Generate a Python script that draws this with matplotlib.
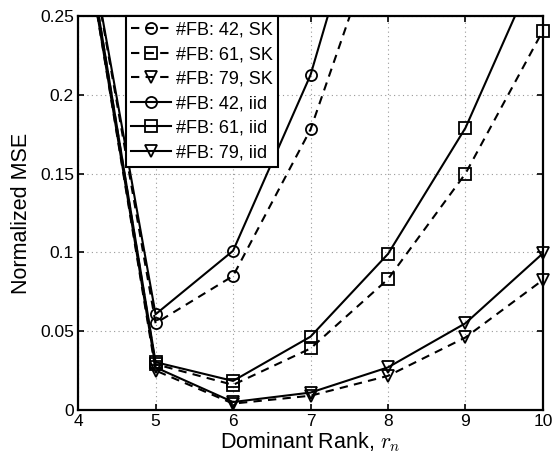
import matplotlib
matplotlib.use("Agg")
import matplotlib.pyplot as plt
from matplotlib.lines import Line2D

plt.rcParams['font.family'] = ['Liberation Sans', 'DejaVu Sans']
plt.rcParams['mathtext.fontset'] = 'cm'

# dominant rank values
rank_all = [4, 5, 6, 7, 8, 9, 10]
rank_42 = [4, 5, 6, 7, 8]

# normalized MSE per feedback setting
mse_42_sk = [0.335, 0.055, 0.085, 0.178, 0.32]
mse_61_sk = [0.33, 0.029, 0.0159, 0.039, 0.083, 0.150, 0.2407]
mse_79_sk = [0.325, 0.025, 0.004, 0.009, 0.0216, 0.046, 0.0825]
mse_42_iid = [0.335, 0.0607, 0.101, 0.2126, 0.38]
mse_61_iid = [0.33, 0.0303, 0.0184, 0.0465, 0.099, 0.179, 0.29]
mse_79_iid = [0.325, 0.027, 0.005, 0.011, 0.027, 0.055, 0.0994]

labels = ['#FB: 42, SK', '#FB: 61, SK', '#FB: 79, SK',
          '#FB: 42, iid', '#FB: 61, iid', '#FB: 79, iid']

y_ticks = [0, 0.05, 0.1, 0.15, 0.2, 0.25]
y_tick_labels = ['0', '0.05', '0.1', '0.15', '0.2', '0.25']
x_ticks = [4, 5, 6, 7, 8, 9, 10]

series = [
    (rank_42, mse_42_sk, 'o', 'dash'),
    (rank_all, mse_61_sk, 's', 'dash'),
    (rank_all, mse_79_sk, 'v', 'dash'),
    (rank_42, mse_42_iid, 'o', 'solid'),
    (rank_all, mse_61_iid, 's', 'solid'),
    (rank_all, mse_79_iid, 'v', 'solid'),
]

fig = plt.figure(figsize=(5.58, 4.58), dpi=100)
ax = fig.add_axes([0.140, 0.105, 0.833, 0.860])

ymax = 0.25
lw = 1.5
marker_kw = dict(markersize=8, markerfacecolor='none',
                 markeredgecolor='black', markeredgewidth=1.3)
handles = []
for (xs, ys, mk, style), lab in zip(series, labels):
    ls = (0, (4, 3)) if style == 'dash' else '-'
    # line is clipped at the axes, markers only for visible points
    ax.plot(xs, ys, color='black', linewidth=lw, linestyle=ls, zorder=3)
    pts = [(x, y) for x, y in zip(xs, ys) if y <= ymax]
    ax.plot([p[0] for p in pts], [p[1] for p in pts], linestyle='none',
            marker=mk, clip_on=False, zorder=4, **marker_kw)
    handles.append(Line2D([0], [0], color='black', linewidth=lw,
                          linestyle=ls, marker=mk, **marker_kw))

ax.set_xlim(4, 10)
ax.set_ylim(0, ymax)
ax.set_xticks(x_ticks)
ax.set_yticks(y_ticks)
ax.set_yticklabels(y_tick_labels)
ax.tick_params(direction='in', top=True, right=True, length=4, width=1.2,
               labelsize=12.5, pad=3)
ax.grid(True, color='#999999', linestyle=(0, (1, 3)), linewidth=0.8)
ax.set_axisbelow(True)
for sp in ax.spines.values():
    sp.set_linewidth(1.6)

ax.set_xlabel('Dominant Rank, $r_n$', fontsize=15.5, labelpad=1)
ax.set_ylabel('Normalized MSE', fontsize=15.5, labelpad=6)

leg = ax.legend(handles, labels, loc='upper left', bbox_to_anchor=(0.102, 1.0),
                borderaxespad=0, fontsize=13, handlelength=2.2,
                handletextpad=0.3, labelspacing=0.42, borderpad=0.3,
                fancybox=False, framealpha=1)
leg.get_frame().set_edgecolor('black')
leg.get_frame().set_linewidth(1.5)
leg.set_zorder(10)

fig.savefig('out.png', dpi=100)
